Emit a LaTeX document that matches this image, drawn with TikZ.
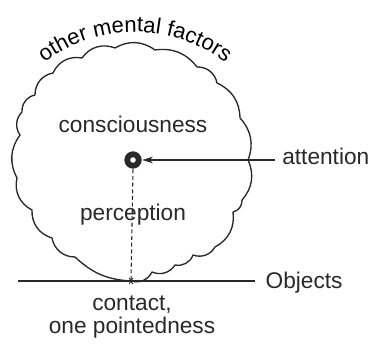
\documentclass[tikz,border=0pt]{standalone}
\usepackage{fontspec}
\setmainfont{Liberation Sans}
\usetikzlibrary{
	arrows.meta,
	decorations.text
}
\definecolor{InkGray}{RGB}{40,40,40}

\begin{document}
\begin{tikzpicture}[x=0.75pt, y=0.75pt, line width=1pt, color=InkGray,
		lbl/.style={font=\fontsize{17}{17.5}\selectfont, inner sep=0pt}]
			\useasboundingbox (0,0) rectangle (372,345);
			% cloud of the mind, cusps going clockwise from the contact point
			\coordinate (touch) at (131,64);
			\draw[line join=round] (touch)
				foreach \x/\y/\b in {75/88/20,52/107/40,32/135/38,17/167/38,20/210/32,22/233/40,
					35/250/40,53/272/40,82/287/38,115/297/38,155/295/33,197/278/30,217/262/40,
					240/227/32,248/185/32,242/145/33,233/133/40,215/98/35,193/90/40,175/80/40,152/73/40}
				{ to[bend left=\b] (\x,\y) } to[bend left=40] (touch);
			\path[decorate, decoration={text along path, text align=center,
				text={|\fontsize{16.5}{18}\selectfont|other mental factors}}]
				([shift={(135,163)}]128:150) arc[start angle=128, end angle=52, radius=150];
			\node[lbl, anchor=base] (consc) at (133,212) {consciousness};
			\node[lbl, anchor=base] (percep) at (133,124) {perception};
			\node[lbl, anchor=base, align=center] (contact) at (132,11) {contact,\\one pointedness};
			% focus point and attention
			\node[circle, fill=InkGray, inner sep=0pt, minimum size=13pt] (focus) at (133,185) {};
			\fill[white] (focus) circle (2.8);
			\node[lbl, anchor=base west, inner sep=5pt] (attn) at (275,180) {attention};
			\draw[-{Stealth[length=8pt, width=5pt]}, line width=1.1pt] (attn.west |- focus) -- (focus.east);
			% object line
			\coordinate (lineL) at (18,64);
			\coordinate (lineR) at (255,64);
			\draw (lineL) -- (lineR);
			\node[lbl, anchor=base west] (obj) at (265,56) {Objects};
			\draw[dash pattern=on 3pt off 2pt, line width=0.8pt] (focus.south) -- (touch);
			\foreach \r in {0,60,120}
				\draw[line width=0.7pt] (touch) ++(\r:3.5) -- ++(\r+180:7);
		\end{tikzpicture}
\end{document}
